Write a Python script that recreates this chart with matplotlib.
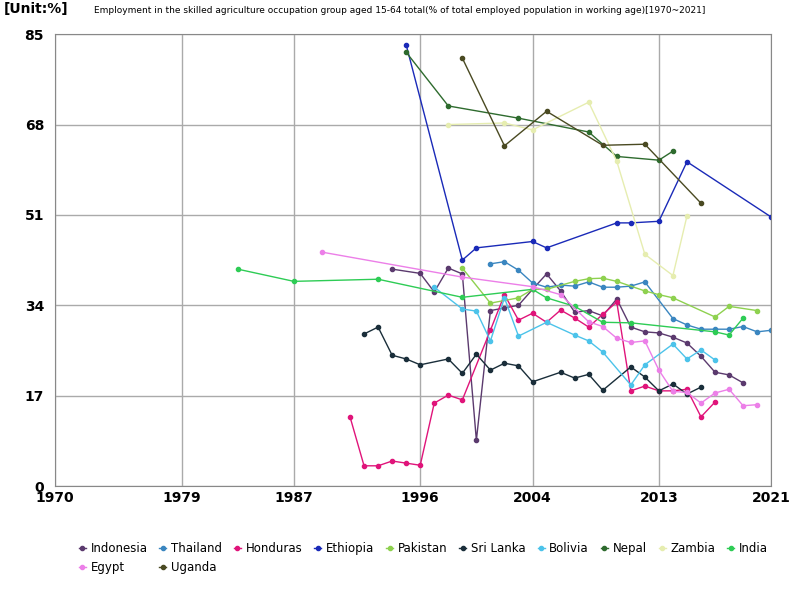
import matplotlib.pyplot as plt

# employment in skilled agriculture, % of employed
indonesia_x = [1994,1996,1997,1998,1999,2000,2001,2002,2003,2004,2005,2006,2007,2008,2009,2010,2011,2012,2013,2014,2015,2016,2017,2018,2019]
indonesia_y = [40.8,40,36.5,41,39.9,8.6,33,33.5,34,37,39.9,36.7,32.7,33,32,35.2,29.9,29,28.8,28,26.9,24.4,21.4,20.9,19.4]
thailand_x = [2001,2002,2003,2004,2005,2006,2007,2008,2009,2010,2011,2012,2014,2015,2016,2017,2018,2019,2020,2021]
thailand_y = [41.8,42.2,40.6,38.2,37.4,37.8,37.6,38.4,37.4,37.4,37.6,38.4,31.5,30.3,29.5,29.5,29.5,30,29,29.3]
honduras_x = [1991,1992,1993,1994,1995,1996,1997,1998,1999,2001,2002,2003,2004,2005,2006,2007,2008,2009,2010,2011,2012,2013,2014,2015,2016,2017]
honduras_y = [13,3.8,3.8,4.7,4.3,3.9,15.6,17.1,16.2,29.3,36,31.2,32.5,30.8,33.1,31.6,29.9,32.3,34.6,17.9,18.8,17.9,17.9,18.2,13,15.8]
ethiopia_x = [1995,1999,2000,2004,2005,2010,2011,2013,2015,2021]
ethiopia_y = [83,42.5,44.8,46,44.8,49.5,49.5,49.8,61,50.6]
pakistan_x = [1999,2001,2003,2004,2005,2007,2008,2009,2010,2012,2013,2014,2017,2018,2020]
pakistan_y = [41,34.4,35.4,37,37,38.5,39,39.1,38.5,36.7,36,35.4,31.8,33.8,33]
srilanka_x = [1992,1993,1994,1995,1996,1998,1999,2000,2001,2002,2003,2004,2006,2007,2008,2009,2011,2012,2013,2014,2015,2016]
srilanka_y = [28.6,29.9,24.6,23.9,22.8,23.9,21.2,24.8,21.8,23.1,22.6,19.6,21.4,20.3,21,18,22.4,20.5,17.9,19.2,17.3,18.6]
bolivia_x = [1997,1999,2000,2001,2002,2003,2005,2007,2008,2009,2011,2012,2014,2015,2016,2017]
bolivia_y = [37.4,33.3,32.9,27.3,35.4,28.2,30.8,28.4,27.3,25.2,19,22.8,26.7,23.9,25.6,23.7]
nepal_x = [1995,1998,2003,2008,2010,2013,2014]
nepal_y = [81.6,71.5,69.2,66.6,62,61.3,63]
zambia_x = [1998,2002,2004,2008,2010,2012,2014,2015]
zambia_y = [68,68.3,67,72.2,61.1,43.6,39.6,50.8]
india_x = [1983,1987,1993,1999,2004,2005,2007,2009,2011,2017,2018,2019]
india_y = [40.8,38.5,38.9,35.5,37,35.4,33.8,30.8,30.7,29,28.4,31.6]
egypt_x = [1989,1999,2004,2006,2008,2009,2010,2011,2012,2013,2014,2015,2016,2017,2018,2019,2020]
egypt_y = [44,39.3,37.5,36,30.9,30,27.8,27,27.3,21.8,17.8,17.6,15.6,17.5,18.2,15.1,15.3]
uganda_x = [1999,2002,2005,2009,2012,2016]
uganda_y = [80.5,64,70.5,64.1,64.3,53.2]

series = [
    ('Indonesia', indonesia_x, indonesia_y, '#5b3a6e'),
    ('Thailand', thailand_x, thailand_y, '#3a86c0'),
    ('Honduras', honduras_x, honduras_y, '#e0147a'),
    ('Ethiopia', ethiopia_x, ethiopia_y, '#1a2ab8'),
    ('Pakistan', pakistan_x, pakistan_y, '#8ed14f'),
    ('Sri Lanka', srilanka_x, srilanka_y, '#1a2e3a'),
    ('Bolivia', bolivia_x, bolivia_y, '#4cc3ea'),
    ('Nepal', nepal_x, nepal_y, '#2e6b2e'),
    ('Zambia', zambia_x, zambia_y, '#e6edb0'),
    ('India', india_x, india_y, '#2ecc55'),
    ('Egypt', egypt_x, egypt_y, '#ec7fe8'),
    ('Uganda', uganda_x, uganda_y, '#4a4a22'),
]

fig = plt.figure(figsize=(8, 6), dpi=100)
ax = fig.add_axes([0.069, 0.19, 0.895, 0.753])
for name, xs, ys, col in series:
    ax.plot(xs, ys, color=col, lw=1, marker='o', ms=3, label=name)

ax.set_xlim(1970, 2021)
ax.set_ylim(0, 85)
ax.set_xticks([1970, 1979, 1987, 1996, 2004, 2013, 2021])
ax.set_yticks([0, 17, 34, 51, 68, 85])
ax.tick_params(labelsize=10, length=0)
ax.tick_params(axis='y', pad=8)
for lab in ax.get_xticklabels() + ax.get_yticklabels():
    lab.set_fontweight('bold')
ax.grid(color='#aaaaaa', lw=1)
for s in ax.spines.values():
    s.set_color('#888888')
fig.text(0.005, 0.985, '[Unit:%]', fontsize=10, fontweight='bold', va='center')
fig.text(0.5, 0.978, 'Employment in the skilled agriculture occupation group aged 15-64 total(% of total employed population in working age)[1970~2021]',
         ha='center', fontsize=6.5)

# legend fills column-wise, so reorder to read row-wise
h, l = ax.get_legend_handles_labels()
order = [0, 10, 1, 11, 2, 3, 4, 5, 6, 7, 8, 9]
fig.legend([h[i] for i in order], [l[i] for i in order], loc='lower left',
           bbox_to_anchor=(0.085, 0.025), ncol=10, frameon=False,
           fontsize=8.5, handlelength=0.6, columnspacing=1.0, handletextpad=0.4)
fig.savefig('out.png')
